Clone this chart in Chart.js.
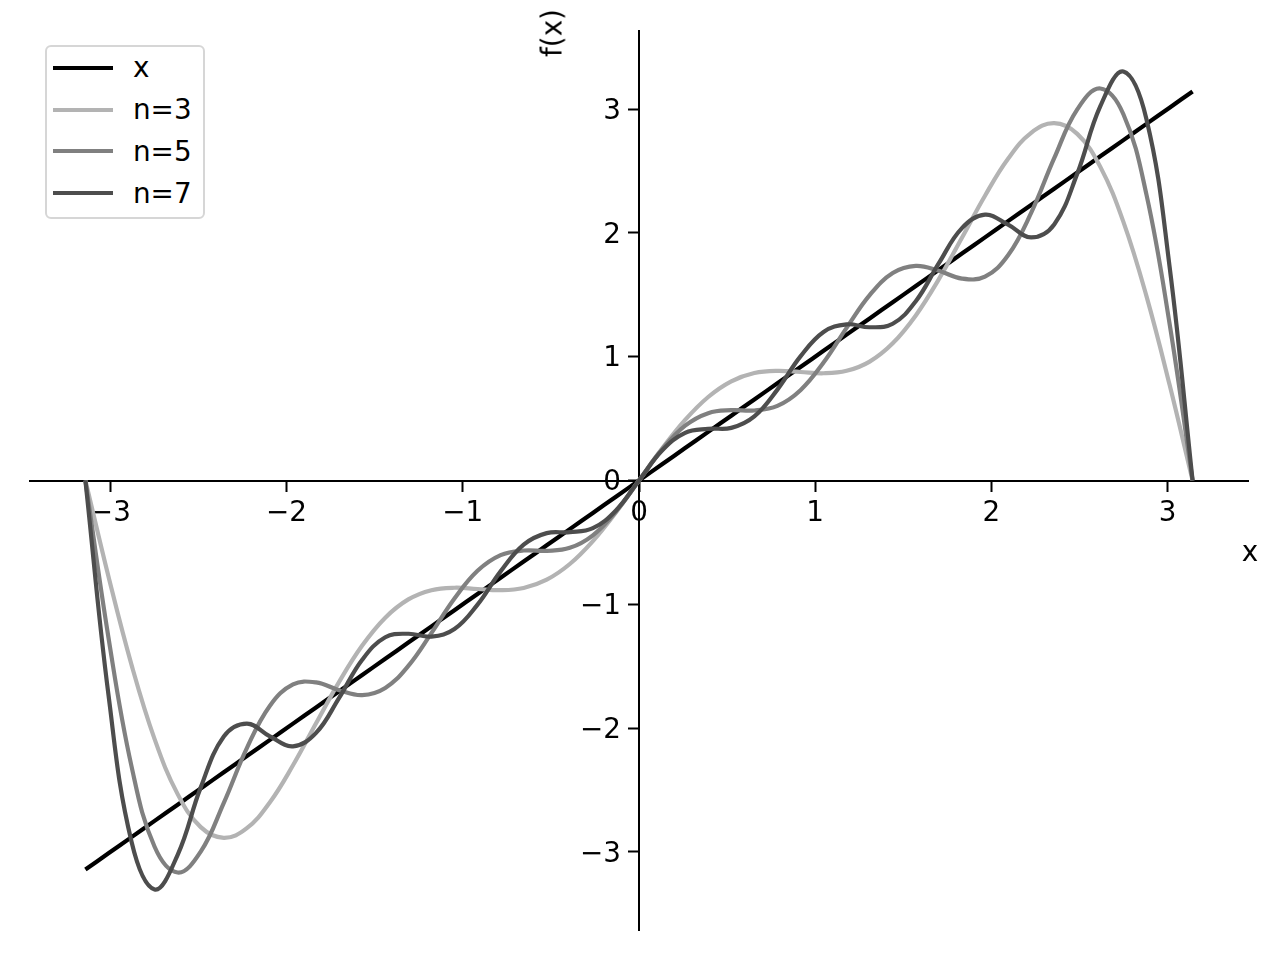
<!DOCTYPE html>
<html>
<head>
<meta charset="utf-8">
<script src="https://cdn.jsdelivr.net/npm/chart.js@4.4.1/dist/chart.umd.min.js"></script>
<style>
    body { margin: 0; background: #fff; }
    #wrap { position: relative; width: 1280px; height: 960px; font-family: "DejaVu Sans", sans-serif; }
    #legend {
        position: absolute; left: 45px; top: 45px; width: 156px;
        border: 2px solid #d6d6d6; border-radius: 6px; background: #fff;
        padding-bottom: 3px;
    }
    .row { display: flex; align-items: center; height: 41.8px; font-size: 27.8px; color: #000; }
    .swatch { margin-left: 6px; width: 60px; height: 4px; margin-right: 20px; }
    .axlabel { position: absolute; font-size: 27.8px; color: #000; white-space: nowrap; }
</style>
</head>
<body>
<div id="wrap">
    <canvas id="chart" width="1280" height="960"></canvas>
    <div id="legend"></div>
    <div class="axlabel" style="left:1250px; top:551px; transform:translate(-50%,-50%);">x</div>
    <div class="axlabel" style="left:552px; top:33px; transform:translate(-50%,-50%) rotate(-90deg);">f(x)</div>
</div>
<script>
/*
        Partial sums of the Fourier series of f(x) = x.
    Values at steps of pi/24.
*/

const xs = [-3.1416, -3.0107, -2.8798, -2.7489, -2.6180, -2.4871, -2.3562, -2.2253, -2.0944, -1.9635,
    -1.8326, -1.7017, -1.5708, -1.4399, -1.3090, -1.1781, -1.0472, -0.9163, -0.7854, -0.6545,
    -0.5236, -0.3927, -0.2618, -0.1309, 0,
    0.1309, 0.2618, 0.3927, 0.5236, 0.6545, 0.7854, 0.9163, 1.0472, 1.1781, 1.3090,
    1.4399, 1.5708, 1.7017, 1.8326, 1.9635, 2.0944, 2.2253, 2.3562, 2.4871, 2.6180,
    2.7489, 2.8798, 3.0107, 3.1416];

const lineX = [-3.1416, -3.0107, -2.8798, -2.7489, -2.6180, -2.4871, -2.3562, -2.2253, -2.0944, -1.9635,
    -1.8326, -1.7017, -1.5708, -1.4399, -1.3090, -1.1781, -1.0472, -0.9163, -0.7854, -0.6545,
    -0.5236, -0.3927, -0.2618, -0.1309, 0,
    0.1309, 0.2618, 0.3927, 0.5236, 0.6545, 0.7854, 0.9163, 1.0472, 1.1781, 1.3090,
    1.4399, 1.5708, 1.7017, 1.8326, 1.9635, 2.0944, 2.2253, 2.3562, 2.4871, 2.6180,
    2.7489, 2.8798, 3.0107, 3.1416];

const n3 = [0, -0.7749, -1.4890, -2.0884, -2.5327, -2.7994, -2.8856, -2.8078, -2.5981, -2.2998,
    -1.9604, -1.6257, -1.3333, -1.1081, -0.9604, -0.8856, -0.8660, -0.8760, -0.8856, -0.8676,
    -0.8007, -0.6742, -0.4890, -0.2573, 0,
    0.2573, 0.4890, 0.6742, 0.8007, 0.8676, 0.8856, 0.8760, 0.8660, 0.8856, 0.9604,
    1.1081, 1.3333, 1.6257, 1.9604, 2.2998, 2.5981, 2.8078, 2.8856, 2.7994, 2.5327,
    2.0884, 1.4890, 0.7749, 0];

const n5 = [0, -1.2684, -2.3084, -2.9580, -3.1657, -2.9972, -2.6028, -2.1612, -1.8187, -1.6467,
    -1.6309, -1.6931, -1.7333, -1.6755, -1.4969, -1.2325, -0.9526, -0.7294, -0.6028, -0.5654,
    -0.5677, -0.5438, -0.4424, -0.2508, 0,
    0.2508, 0.4424, 0.5438, 0.5677, 0.5654, 0.6028, 0.7294, 0.9526, 1.2325, 1.4969,
    1.6755, 1.7333, 1.6931, 1.6309, 1.6467, 1.8187, 2.1612, 2.6028, 2.9972, 3.1657,
    2.9580, 2.3084, 1.2684, 0];

const n7 = [0, -1.7308, -2.9177, -3.3030, -3.0228, -2.4782, -2.0675, -1.9628, -2.0661, -2.1464,
    -2.0381, -1.7549, -1.4476, -1.2659, -1.2375, -1.2608, -1.2000, -1.0024, -0.7341, -0.5178,
    -0.4248, -0.4174, -0.3851, -0.2418, 0,
    0.2418, 0.3851, 0.4174, 0.4248, 0.5178, 0.7341, 1.0024, 1.2000, 1.2608, 1.2375,
    1.2659, 1.4476, 1.7549, 2.0381, 2.1464, 2.0661, 1.9628, 2.0675, 2.4782, 3.0228,
    3.3030, 2.9177, 1.7308, 0];

const seriesLabels = ["x", "n=3", "n=5", "n=7"];
const seriesColors = ["#000000", "#b3b3b3", "#808080", "#4d4d4d"];
const xTicks = [-3, -2, -1, 0, 1, 2, 3];
const yTicks = [-3, -2, -1, 0, 1, 2, 3];

const tickFont = { family: "DejaVu Sans", size: 27.8 };

function points(ys) {
    return xs.map((x, i) => ({ x: x, y: ys[i] }));
}

function minusSign(value) {
    return String(value).replace("-", "\u2212");
}

const allSeries = [lineX, n3, n5, n7];
const datasets = allSeries.map((ys, i) => ({
    label: seriesLabels[i],
    data: points(ys),
    borderColor: seriesColors[i],
    borderWidth: 4.2,
    pointRadius: 0,
    tension: 0.4,
    fill: false,
    order: allSeries.length - i,
}));

const axisCommon = {
    type: "linear",
    grid: {
        display: true,
        drawOnChartArea: false,
        drawTicks: true,
        tickLength: 10,
        tickWidth: 2,
        tickColor: "#000",
    },
    border: { display: true, color: "#000", width: 2 },
};

// Chart.js puts y labels on top of a centred spine, so they are drawn here, left of the tick marks
const yLabelsPlugin = {
    id: "yLabels",
    afterDraw(chart) {
        const ctx = chart.ctx;
        const xPix = chart.scales.x.getPixelForValue(0);

        ctx.save();
        ctx.font = "27.8px 'DejaVu Sans'";
        ctx.fillStyle = "#000";
        ctx.textAlign = "right";
        ctx.textBaseline = "middle";
        yTicks.forEach((v) => {
            ctx.fillText(minusSign(v), xPix - 18, chart.scales.y.getPixelForValue(v) + 2.5);
        });
        ctx.restore();
    },
};

new Chart(document.getElementById("chart").getContext("2d"), {
    type: "line",
    data: { datasets: datasets },
    plugins: [yLabelsPlugin],
    options: {
        responsive: false,
        animation: false,
        devicePixelRatio: 1,
        layout: { padding: { left: 30, right: 32, top: 31, bottom: 30 } },
        plugins: {
            legend: { display: false },
            tooltip: { enabled: false },
        },
        scales: {
            x: {
                ...axisCommon,
                position: { y: 0 },
                min: -3.456,
                max: 3.456,
                afterBuildTicks: (scale) => { scale.ticks = xTicks.map((v) => ({ value: v })); },
                ticks: { color: "#000", font: tickFont, padding: 7, maxRotation: 0, autoSkip: false, callback: minusSign },
            },
            y: {
                ...axisCommon,
                position: { x: 0 },
                min: -3.63,
                max: 3.63,
                afterBuildTicks: (scale) => { scale.ticks = yTicks.map((v) => ({ value: v })); },
                ticks: { display: false },
            },
        },
    },
});

// Legend box in the upper left corner, built from the series labels
const legend = document.getElementById("legend");
seriesLabels.forEach((label, i) => {
    const row = document.createElement("div");
    const swatch = document.createElement("span");
    const text = document.createElement("span");

    row.className = "row";
    swatch.className = "swatch";
    swatch.style.background = seriesColors[i];
    text.innerText = label;
    row.appendChild(swatch);
    row.appendChild(text);
    legend.appendChild(row);
});
</script>
</body>
</html>
